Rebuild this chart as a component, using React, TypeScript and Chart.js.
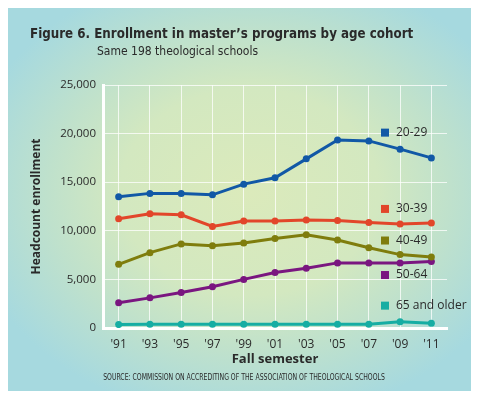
import React, { useEffect, useRef } from "react";
import { Chart, registerables } from "chart.js";

Chart.register(...registerables);

const categories = ["'91", "'93", "'95", "'97", "'99", "'01", "'03", "'05", "'07", "'09", "'11"];
const age2029 = [13500, 13850, 13850, 13700, 14800, 15450, 17400, 19350, 19250, 18400, 17500];
const age3039 = [11250, 11750, 11650, 10450, 11000, 11000, 11100, 11050, 10850, 10700, 10800];
const age4049 = [6550, 7750, 8650, 8450, 8750, 9200, 9600, 9050, 8250, 7550, 7300];
const age5064 = [2600, 3100, 3650, 4250, 5000, 5700, 6150, 6700, 6700, 6700, 6850];
const age65 = [350, 380, 380, 380, 380, 380, 380, 380, 380, 650, 500];
const seriesNames = ["20-29", "30-39", "40-49", "50-64", "65 and older"];
const seriesColors = ["#1158a6", "#e2462a", "#7f7d0d", "#7a1680", "#16ada3"];
const labelValues = [20100, 12250, 9000, 5450, 2300];
const yTicks = [0, 5000, 10000, 15000, 20000, 25000];

const TEXT = "#2a2a2a";
const FONT = "'Open Sans', 'DejaVu Sans', sans-serif";
const COND = "'DejaVu Sans Condensed', 'DejaVu Sans', sans-serif";

function scaledText(ctx: any, text: string, x: number, y: number, sx: number) {
  ctx.save();
  ctx.translate(x, y);
  ctx.scale(sx, 1);
  ctx.fillText(text, 0, 0);
  ctx.restore();
}

const decorPlugin = {
  id: "decor",
  afterDraw(chart: any) {
    const ctx = chart.ctx;
    const y = chart.scales.y;
    ctx.save();
    ctx.fillStyle = TEXT;
    ctx.textBaseline = "alphabetic";
    ctx.textAlign = "left";
    ctx.font = `bold 14px ${COND}`;
    scaledText(ctx, "Figure 6. Enrollment in master\u2019s programs by age cohort", 22, 30, 0.945);
    ctx.font = `12px ${COND}`;
    ctx.fillText("Same 198 theological schools", 89, 47);
    ctx.textAlign = "center";
    ctx.font = `8px ${COND}`;
    scaledText(ctx, "SOURCE: COMMISSION ON ACCREDITING OF THE ASSOCIATION OF THEOLOGICAL SCHOOLS", 236, 372, 0.855);
    ctx.textAlign = "left";
    ctx.textBaseline = "middle";
    ctx.font = `12px ${FONT}`;
    seriesNames.forEach((name, i) => {
      const py = y.getPixelForValue(labelValues[i]);
      ctx.fillStyle = seriesColors[i];
      ctx.fillRect(373, py - 4, 8, 8);
      ctx.fillStyle = TEXT;
      ctx.fillText(name, 388, py);
    });
    ctx.restore();
  },
};

export default function App() {
  const ref = useRef<HTMLCanvasElement>(null);
  useEffect(() => {
    const data = [age2029, age3039, age4049, age5064, age65];
    const chart = new Chart(ref.current!, {
      type: "line",
      data: {
        labels: categories,
        datasets: data.map((d, i) => ({
          label: seriesNames[i],
          data: d,
          borderColor: seriesColors[i],
          backgroundColor: seriesColors[i],
          borderWidth: 3,
          pointRadius: 3.5,
          pointBorderWidth: 0,
          tension: 0,
        })),
      },
      options: {
        animation: false,
        responsive: false,
        layout: { padding: { left: 0, top: 77, right: 25, bottom: 0 } },
        plugins: { legend: { display: false }, tooltip: { enabled: false }, title: { display: false } },
        scales: {
          x: {
            offset: true,
            grid: { color: "rgba(255,255,255,0.75)", lineWidth: 1, offset: false, drawTicks: false },
            border: { color: "#ffffff", width: 3 },
            ticks: { color: TEXT, font: { family: FONT, size: 12 }, padding: 9, maxRotation: 0 },
            title: {
              display: true,
              text: "Fall semester",
              color: TEXT,
              font: { family: FONT, size: 13, weight: "bold" },
              padding: { top: 0, bottom: 24 },
            },
            afterFit: (s: any) => { s.height = 63; },
          },
          y: {
            min: 0,
            max: 25000,
            afterBuildTicks: (s: any) => { s.ticks = yTicks.map((v) => ({ value: v })); },
            grid: { color: "rgba(255,255,255,0.75)", lineWidth: 1, drawTicks: false },
            border: { color: "#ffffff", width: 3 },
            ticks: {
              color: TEXT,
              font: { family: FONT, size: 11.5 },
              padding: 7,
              callback: (v: any) => Number(v).toLocaleString("en-US"),
            },
            title: {
              display: true,
              text: "Headcount enrollment",
              color: TEXT,
              font: { family: FONT, size: 12, weight: "bold" },
              padding: { top: 21, bottom: 0 },
            },
            afterFit: (s: any) => { s.width = 95; },
          },
        },
      },
      plugins: [decorPlugin],
    });
    return () => chart.destroy();
  }, []);
  return (
    <div
      style={{
        width: 464,
        height: 383,
        background:
          "radial-gradient(ellipse 62% 60% at 52% 48%, #dbeabb 0%, #d3e8c0 45%, #bfe1cc 70%, #a6d9df 100%)",
      }}
    >
      <canvas ref={ref} width={464} height={383} style={{ display: "block" }} />
    </div>
  );
}
